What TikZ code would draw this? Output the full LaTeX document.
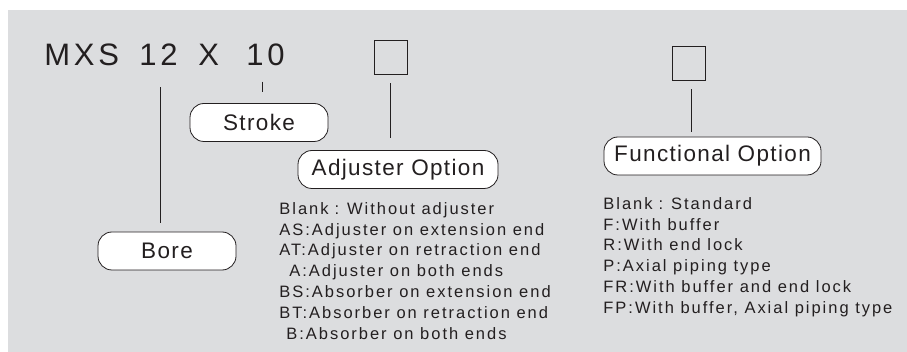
\documentclass[tikz,border=0pt]{standalone}
\usepackage{fontspec}
\setmainfont{Liberation Sans}
\usetikzlibrary{positioning, calc}
\definecolor{cpanel}{HTML}{DCDDDF}
\definecolor{cink}{HTML}{231F20}
\tikzset{
  every picture/.style={x=1pt, y=-1pt, line width=0.8pt},
  code/.style={font=\fontsize{31}{32}\selectfont\addfontfeature{LetterSpace=12}, text=cink, inner sep=0pt, anchor=base west},
  tag/.style={draw=cink, fill=white, rounded corners=14pt, minimum height=38pt, inner sep=0pt,
    font=\fontsize{22.5}{23}\selectfont\addfontfeature{LetterSpace=6}, text=cink},
  slot/.style={draw=cink, minimum width=33pt, minimum height=34pt, inner sep=0pt},
  lead/.style={draw=cink},
  legend/.style={font=\fontsize{16.5}{20.8}\selectfont\addfontfeature{LetterSpace=12}, text=cink, align=left, inner sep=0pt, anchor=north west},
}

\begin{document}
\begin{tikzpicture}
  \useasboundingbox (0,0) rectangle (907,352);
  \fill[cpanel] (8,10) rectangle (907,352);
  % model code
  \node[code] (mxs) at (44,66) {MXS};
  \node[code] (n12) at (139,66) {12};
  \node[code] (nx) at (198,66) {X};
  \node[code] (n10) at (246,66) {10};
  \node[slot] (sq1) at (390.5,57) {};
  \node[slot] (sq2) at (688.5,63) {};
  % labels
  \node[tag, minimum width=138pt] (bore) at (167,251) {Bore};
  \node[tag, minimum width=138pt] (stroke) at (259,122.5) {Stroke};
  \node[tag, minimum width=200pt] (adj) at (398,169.5) {Adjuster Option};
  \node[tag, minimum width=217pt] (func) at (712.5,156) {Functional Option};
  \draw[lead, shorten <=21pt, shorten >=9pt] ([xshift=2pt]n12.south) -- ([xshift=2pt]n12.south |- bore.north);
  \draw[lead, shorten <=15pt, shorten >=11pt] ([xshift=-3pt]n10.south) -- ([xshift=-3pt]n10.south |- stroke.north);
  \draw[lead, shorten <=9pt, shorten >=12pt] (sq1.south) -- (sq1.south |- adj.north);
  \draw[lead, shorten <=9pt, shorten >=5pt] ([xshift=3pt]sq2.south) -- ([xshift=3pt]sq2.south |- func.north);
  % option lists
  \node[legend] (adjlist) at (279,202) {Blank\hspace{6pt}:\hspace{8pt}Without adjuster\\
    AS:Adjuster on extension end\\
    AT:Adjuster on retraction end\\
    \hspace{10pt}A:Adjuster on both ends\\
    BS:Absorber on extension end\\
    BT:Absorber on retraction end\\
    \hspace{7pt}B:Absorber on both ends};
  \node[legend] (funclist) at (603,197) {Blank\hspace{6pt}:\hspace{8pt}Standard\\
    F:With buffer\\
    R:With end lock\\
    P:Axial piping type\\
    FR:With buffer and end lock\\
    FP:With buffer, Axial piping type};
\end{tikzpicture}
\end{document}
